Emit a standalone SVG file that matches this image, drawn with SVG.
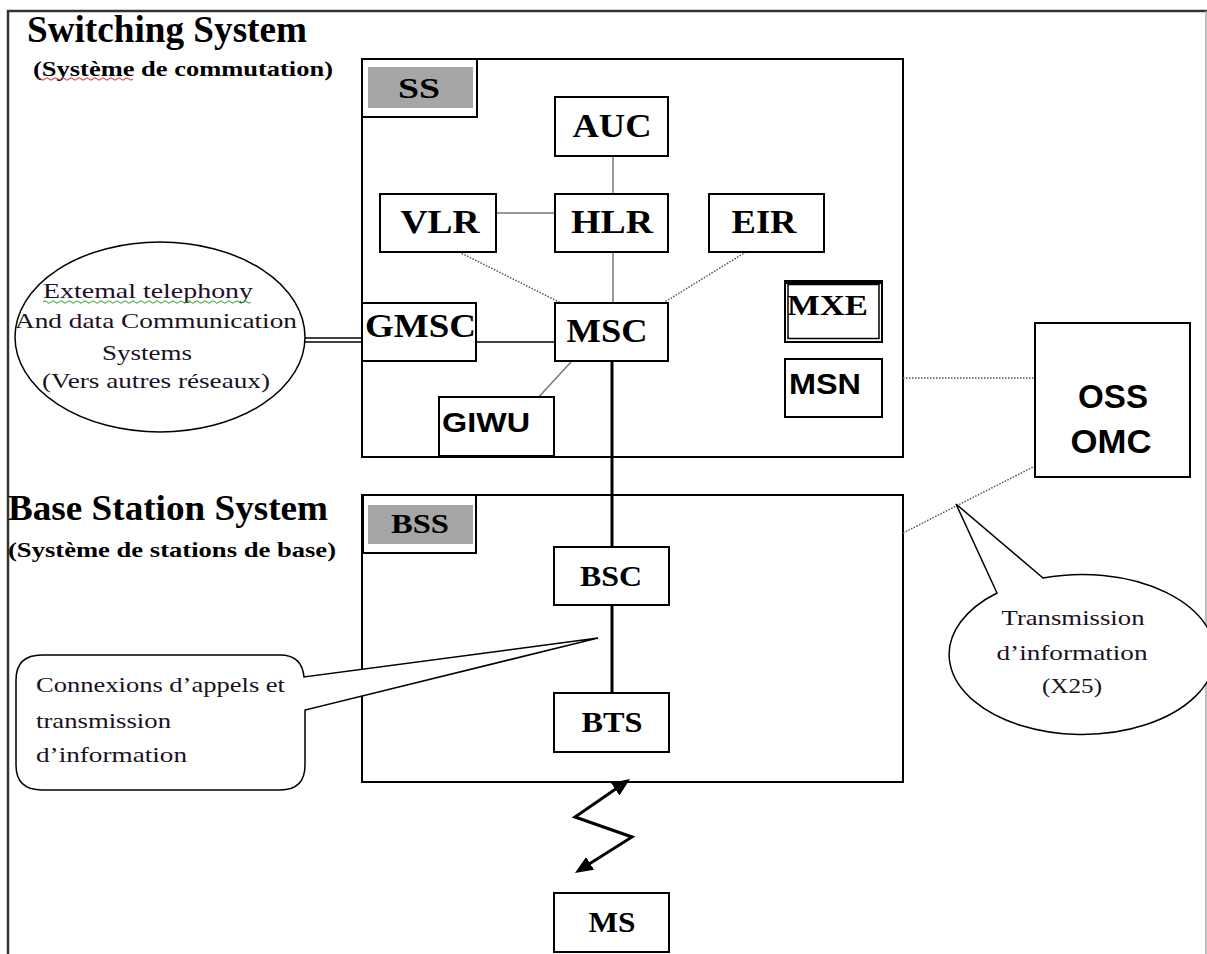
<svg xmlns="http://www.w3.org/2000/svg" width="1207" height="954" viewBox="0 0 1207 954">
  <style>
    .box { fill: #fff; stroke: #000; stroke-width: 2; }
    .frame { fill: none; stroke: #000; stroke-width: 2; }
    .tag { fill: #a6a6a6; stroke: none; }
    .sb { font-family: "Liberation Serif", "Times New Roman", serif; font-weight: bold; fill: #000; }
    .sr { font-family: "Liberation Serif", "Times New Roman", serif; fill: #1a1024; }
    .ss { font-family: "Liberation Sans", Arial, sans-serif; font-weight: bold; fill: #000; }
    .solid { fill: none; stroke: #000; stroke-width: 1.5; }
    .grey { fill: none; stroke: #777; stroke-width: 1.5; }
    .dot { fill: none; stroke: #555; stroke-width: 1.5; stroke-dasharray: 1.5 1.5; }
    .thick { fill: none; stroke: #000; stroke-width: 3; }
    .callout { fill: #fff; stroke: #000; stroke-width: 1.5; }
  </style>
  <defs>
    <marker id="head" markerUnits="userSpaceOnUse" markerWidth="18" markerHeight="15" viewBox="0 0 18 15" refX="12" refY="7.5" orient="auto-start-reverse">
      <path d="M0,0 L18,7.5 L0,15 z" fill="#000"/>
    </marker>
  </defs>

  <rect width="1207" height="954" fill="#fff"/>

  <!-- page frame -->
  <path d="M8 954 V11 H1207" fill="none" stroke="#333" stroke-width="2.5"/>
  <line x1="1206" y1="11" x2="1206" y2="954" stroke="#aaa" stroke-width="1.5"/>

  <!-- section titles -->
  <g id="titles">
    <text class="sb" x="27" y="42" font-size="37" textLength="280" lengthAdjust="spacingAndGlyphs">Switching System</text>
    <text class="sb" x="33" y="76" font-size="21" textLength="300" lengthAdjust="spacingAndGlyphs">(Système de commutation)</text>
    <path d="M37 79 q2 -2.5 4 0 t4 0 t4 0 t4 0 t4 0 t4 0 t4 0 t4 0 t4 0 t4 0 t4 0 t4 0 t4 0 t4 0 t4 0 t4 0 t4 0 t4 0 t4 0 t4 0 t4 0 t4 0 t4 0 t4 0" fill="none" stroke="#e02020" stroke-width="1"/>
    <text class="sb" x="8" y="520" font-size="36" textLength="320" lengthAdjust="spacingAndGlyphs">Base Station System</text>
    <text class="sb" x="8" y="557" font-size="21" textLength="328" lengthAdjust="spacingAndGlyphs">(Système de stations de base)</text>
  </g>

  <!-- subsystem frames -->
  <g id="ss-frame">
    <rect class="frame" x="362" y="59" width="541" height="398"/>
    <rect class="box" x="362" y="59" width="115" height="58"/>
    <rect class="tag" x="368" y="67" width="105" height="41"/>
    <text class="sb" x="419" y="98" font-size="30" text-anchor="middle" textLength="42" lengthAdjust="spacingAndGlyphs">SS</text>
  </g>
  <g id="bss-frame">
    <rect class="frame" x="362" y="495" width="541" height="287"/>
    <rect class="box" x="363" y="495" width="113" height="58"/>
    <rect class="tag" x="368" y="505" width="105" height="39"/>
    <text class="sb" x="420" y="533" font-size="28" text-anchor="middle" textLength="58" lengthAdjust="spacingAndGlyphs">BSS</text>
  </g>

  <!-- connectors -->
  <g id="connectors">
    <line class="grey" x1="613" y1="156" x2="613" y2="194"/>
    <line class="grey" x1="496" y1="213" x2="555" y2="213"/>
    <line class="grey" x1="613" y1="252" x2="613" y2="303"/>
    <line class="dot" x1="459" y1="252" x2="577" y2="311"/>
    <line class="dot" x1="746" y1="252" x2="650" y2="311"/>
    <line class="solid" x1="476" y1="342" x2="555" y2="342"/>
    <line class="grey" x1="571" y1="362" x2="535" y2="401"/>
    <line class="solid" x1="305" y1="338" x2="362" y2="338"/>
    <line class="solid" x1="305" y1="342" x2="362" y2="342"/>
    <line class="thick" x1="612" y1="361" x2="612" y2="547"/>
    <line class="thick" x1="612" y1="605" x2="612" y2="693"/>
    <line class="dot" x1="903" y1="378" x2="1035" y2="378"/>
    <line class="dot" x1="903" y1="533" x2="1035" y2="466"/>
    <path d="M625.1 782.4 L575 817 L632 837 L580 869.8" fill="none" stroke="#000" stroke-width="3" stroke-linejoin="miter" marker-start="url(#head)" marker-end="url(#head)"/>
  </g>

  <!-- switching system nodes -->
  <g id="auc">
    <rect class="box" x="555" y="97" width="113" height="59"/>
    <text class="sb" x="612" y="137" font-size="33" text-anchor="middle" textLength="79" lengthAdjust="spacingAndGlyphs">AUC</text>
  </g>
  <g id="vlr">
    <rect class="box" x="380" y="194" width="116" height="58"/>
    <text class="sb" x="440" y="233" font-size="33" text-anchor="middle" textLength="79" lengthAdjust="spacingAndGlyphs">VLR</text>
  </g>
  <g id="hlr">
    <rect class="box" x="555" y="194" width="113" height="58"/>
    <text class="sb" x="612" y="233" font-size="33" text-anchor="middle" textLength="82" lengthAdjust="spacingAndGlyphs">HLR</text>
  </g>
  <g id="eir">
    <rect class="box" x="709" y="194" width="115" height="58"/>
    <text class="sb" x="764" y="233" font-size="33" text-anchor="middle" textLength="65" lengthAdjust="spacingAndGlyphs">EIR</text>
  </g>
  <g id="gmsc">
    <rect class="box" x="362" y="303" width="114" height="58"/>
    <text class="sb" x="365" y="337" font-size="33" textLength="111" lengthAdjust="spacingAndGlyphs">GMSC</text>
  </g>
  <g id="msc">
    <rect class="box" x="555" y="303" width="113" height="58"/>
    <text class="sb" x="607" y="342" font-size="33" text-anchor="middle" textLength="81" lengthAdjust="spacingAndGlyphs">MSC</text>
  </g>
  <g id="giwu">
    <rect class="box" x="439" y="397" width="115" height="60"/>
    <line x1="439" y1="456.5" x2="554" y2="456.5" stroke="#000" stroke-width="3"/>
    <text class="ss" x="442" y="432" font-size="28" textLength="88" lengthAdjust="spacingAndGlyphs">GIWU</text>
  </g>
  <g id="mxe">
    <rect class="box" x="785" y="281" width="97" height="61"/>
    <rect x="788" y="284.5" width="91" height="54" fill="none" stroke="#000" stroke-width="1.5"/>
    <line x1="785" y1="282.5" x2="882" y2="282.5" stroke="#000" stroke-width="3"/>
    <text class="sb" x="787" y="315" font-size="30" textLength="81" lengthAdjust="spacingAndGlyphs">MXE</text>
  </g>
  <g id="msn">
    <rect class="box" x="785" y="359" width="97" height="58"/>
    <text class="ss" x="789" y="394" font-size="29" textLength="72" lengthAdjust="spacingAndGlyphs">MSN</text>
  </g>

  <!-- base station system nodes -->
  <g id="bsc">
    <rect class="box" x="554" y="547" width="115" height="58"/>
    <text class="sb" x="611" y="586" font-size="30" text-anchor="middle" textLength="62" lengthAdjust="spacingAndGlyphs">BSC</text>
  </g>
  <g id="bts">
    <rect class="box" x="554" y="693" width="115" height="59"/>
    <text class="sb" x="612" y="732" font-size="30" text-anchor="middle" textLength="61" lengthAdjust="spacingAndGlyphs">BTS</text>
  </g>
  <g id="ms">
    <rect class="box" x="554" y="893" width="115" height="59"/>
    <text class="sb" x="612" y="932" font-size="30" text-anchor="middle" textLength="47" lengthAdjust="spacingAndGlyphs">MS</text>
  </g>

  <!-- operation and maintenance -->
  <g id="oss-omc">
    <rect class="box" x="1035" y="323" width="155" height="154"/>
    <text class="ss" x="1113" y="408" font-size="33" text-anchor="middle" textLength="70" lengthAdjust="spacingAndGlyphs">OSS</text>
    <text class="ss" x="1111" y="453" font-size="33" text-anchor="middle" textLength="81" lengthAdjust="spacingAndGlyphs">OMC</text>
  </g>

  <!-- external networks -->
  <g id="external">
    <ellipse cx="160" cy="337" rx="145" ry="95" fill="#fff" stroke="#000" stroke-width="1.5"/>
    <text class="sr" x="148" y="298" font-size="22" text-anchor="middle" textLength="210" lengthAdjust="spacingAndGlyphs">Extemal  telephony</text>
    <path d="M43 302 q2 -2.5 4 0 t4 0 t4 0 t4 0 t4 0 t4 0 t4 0 t4 0 t4 0 t4 0 t4 0 t4 0 t4 0 t4 0 t4 0 t4 0 t4 0 t4 0 t4 0 t4 0 t4 0 t4 0 t4 0 t4 0 t4 0 t4 0 t4 0 t4 0 t4 0 t4 0 t4 0 t4 0 t4 0 t4 0 t4 0 t4 0 t4 0 t4 0 t4 0 t4 0 t4 0 t4 0 t4 0 t4 0 t4 0 t4 0 t4 0 t4 0 t4 0 t4 0 t4 0 t4 0" fill="none" stroke="#2aa02a" stroke-width="1"/>
    <text class="sr" x="156" y="328" font-size="22" text-anchor="middle" textLength="282" lengthAdjust="spacingAndGlyphs">And data Communication</text>
    <text class="sr" x="147" y="360" font-size="22" text-anchor="middle" textLength="90" lengthAdjust="spacingAndGlyphs">Systems</text>
    <text class="sr" x="156" y="388" font-size="22" text-anchor="middle" textLength="228" lengthAdjust="spacingAndGlyphs">(Vers  autres réseaux)</text>
  </g>

  <!-- callouts -->
  <g id="callout-calls">
    <path class="callout" d="M42 655 H280 Q302 655 304 677 L598 638 L305 710 V765 Q305 790 280 790 H42 Q16 790 16 765 V680 Q16 655 42 655 Z"/>
    <text class="sr" x="36" y="692" font-size="22" textLength="249" lengthAdjust="spacingAndGlyphs">Connexions d’appels et</text>
    <text class="sr" x="36" y="728" font-size="22" textLength="135" lengthAdjust="spacingAndGlyphs">transmission</text>
    <text class="sr" x="36" y="762" font-size="22" textLength="151" lengthAdjust="spacingAndGlyphs">d’information</text>
  </g>
  <g id="callout-x25">
    <path class="callout" d="M997 593 L956 504 L1043 578 A133 80 0 1 1 997 593 Z"/>
    <text class="sr" x="1073" y="625" font-size="21" text-anchor="middle" textLength="143" lengthAdjust="spacingAndGlyphs">Transmission</text>
    <text class="sr" x="1072" y="660" font-size="21" text-anchor="middle" textLength="151" lengthAdjust="spacingAndGlyphs">d’information</text>
    <text class="sr" x="1072" y="693" font-size="21" text-anchor="middle" textLength="60" lengthAdjust="spacingAndGlyphs">(X25)</text>
  </g>
</svg>
